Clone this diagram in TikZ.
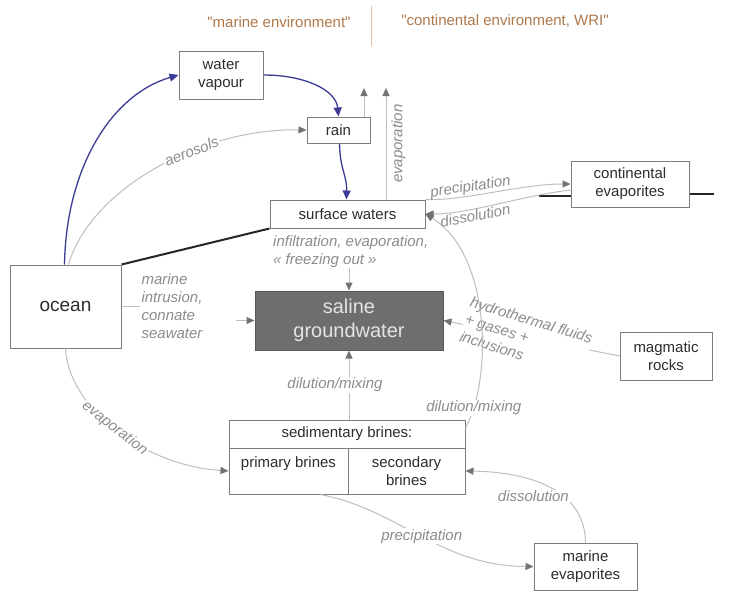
\documentclass[tikz,border=0pt]{standalone}
\usepackage{fontspec}
\setmainfont{Liberation Sans}
\newfontfamily\envfont{Liberation Sans}[Ligatures=TeXOff]
\usetikzlibrary{arrows.meta,calc}
\definecolor{boxline}{RGB}{125,125,125}
\definecolor{txt}{RGB}{45,45,45}
\definecolor{glin}{RGB}{190,190,190}
\definecolor{ghead}{RGB}{115,115,115}
\definecolor{glab}{RGB}{140,140,140}
\definecolor{bluel}{RGB}{60,60,150}
\definecolor{envcol}{RGB}{175,120,75}
\definecolor{darkfill}{RGB}{110,110,110}
\definecolor{saltxt}{RGB}{228,228,228}
\begin{document}
\begin{tikzpicture}[x=1pt,y=-1pt,
  box/.style={draw=boxline, line width=1pt, fill=white, inner sep=0pt, align=center, text=txt, font=\fontsize{15}{18}\selectfont},
  garrow/.style={draw=glin, line width=1pt, -{Triangle[length=8pt,width=7pt,color=ghead]}},
  gline/.style={draw=glin, line width=1pt},
  barrow/.style={draw=bluel, line width=1.3pt, -{Triangle[length=9pt,width=8pt]}},
  blackline/.style={draw=black!85, line width=2pt},
  lab/.style={text=glab, font=\fontsize{15}{18}\selectfont\itshape, inner sep=1pt, align=left},
  blab/.style={lab, fill=white},
  envtext/.style={text=envcol, font=\envfont\fontsize{15}{18}\selectfont},
]
\fill[white] (0,0) rectangle (736,592);
\useasboundingbox (0,0) rectangle (736,592);

% header
\node[envtext] (envm) at (279,22) {"marine environment"};
\node[envtext] (envk) at (505,21) {"continental environment, WRI"};
\draw[draw=envcol!45, line width=1pt] (371,6) -- (371,46);

% boxes
\node[box, minimum width=84, minimum height=48] (wv) at (221,75) {water\\vapour};
\node[box, minimum width=63, minimum height=26] (rain) at (338.5,130) {rain};
\node[box, minimum width=155, minimum height=28] (sw) at (347.5,214) {surface waters};
\node[box, minimum width=118, minimum height=46] (ce) at (630,184) {continental\\evaporites};
\node[box, minimum width=111, minimum height=83, font=\fontsize{19}{23}\selectfont] (ocean) at (65.5,306.5) {ocean};
\node[box, draw=black!65, fill=darkfill, text=saltxt, minimum width=188, minimum height=59, font=\fontsize{20}{24}\selectfont] (sal) at (349,320.5) {saline\\groundwater};
\node[box, minimum width=92, minimum height=48] (mag) at (666,356) {magmatic\\rocks};
\node[box, minimum width=236, minimum height=28] (sedhdr) at (347,434) {sedimentary brines:};
\node[box, minimum width=119, minimum height=46] (prim) at (288.5,471) {primary brines\\\mbox{}};
\node[box, minimum width=117, minimum height=46] (sec) at (406.5,471) {secondary\\brines};
\node[box, minimum width=103, minimum height=47] (me) at (585.5,566.5) {marine\\evaporites};

% blue water cycle
\draw[barrow] ([xshift=-1pt]ocean.north) .. controls (66,170) and (110,95) .. (wv.west);
\draw[barrow] (wv.east) .. controls (305,75) and (336,90) .. (rain.north);
\draw[barrow] ([xshift=1pt]rain.south) .. controls (340,170) and (347,175) .. ([xshift=-1pt]sw.north);

% aerosols
\draw[garrow] ([xshift=3pt]ocean.north) .. controls (90,190) and (200,128) .. (rain.west)
  node[blab, sloped, pos=0.63] {aerosols};

% evaporation arrows
\coordinate (evapA) at (364,88);
\coordinate (evapB) at (386,88);
\draw[garrow] (rain.north -| evapA) -- (evapA);
\draw[garrow] (sw.north -| evapB) -- (evapB)
  node[lab, pos=0.5, rotate=90, anchor=north, inner sep=5pt] {evaporation};

% black boundary lines
\draw[blackline] (ocean.north east) -- (sw.south west);
\coordinate (ceL) at (539,196);
\coordinate (ceR) at (714,194);
\draw[blackline] (ceL) -- (ceL -| ce.west);
\draw[blackline] (ceR -| ce.east) -- (ceR);

% surface waters -> saline
\node[lab, anchor=north west] (inf) at (272,234) {infiltration, evaporation,\\« freezing out »};
\draw[garrow] (inf.south -| sal.north) -- (sal.north);

% ocean -> saline
\node[lab] (mi) at (172,306.5) {marine\\intrusion,\\connate\\seawater};
\draw[gline] (ocean.east) -- (mi.west);
\draw[garrow] ([xshift=32pt]mi.east |- sal.west) -- (sal.west);

% magmatic -> saline
\draw[garrow] (mag.west) -- (sal.east)
  node[blab, pos=0.53, rotate=-17] {hydrothermal fluids\\+ gases +\\inclusions};

% sedimentary brines <-> surface waters
\draw[garrow] ([yshift=6pt]sedhdr.east) .. controls (492,380) and (492,255) .. (sw.east)
  node[blab, pos=0.12] {dilution/mixing};

% surface waters <-> continental evaporites
\draw[garrow] (sw.north east) .. controls (465,201) and (520,184) .. (ce.west)
  node[lab, pos=0.35, sloped, above] {precipitation};
\draw[garrow] ([yshift=-6pt]ce.west) .. controls (520,196) and (470,214) .. (sw.east)
  node[lab, pos=0.65, sloped, below] {dissolution};

% sedimentary -> saline
\draw[garrow] (sal.south |- sedhdr.north) -- (sal.south)
  node[blab, pos=0.5, xshift=-14pt] {dilution/mixing};

% ocean -> primary brines
\draw[garrow] (ocean.south) .. controls (68,405) and (140,465) .. (prim.west)
  node[blab, sloped, pos=0.5] {evaporation};

% primary brines -> marine evaporites
\draw[garrow] ([xshift=-28pt]prim.south east) .. controls (400,510) and (440,566) .. (me.west)
  node[blab, pos=0.5] {precipitation};

% marine evaporites -> secondary brines
\draw[garrow] (me.north) .. controls (585,490) and (530,472) .. (sec.east)
  node[blab, pos=0.42, xshift=-26pt, yshift=-3pt] {dissolution};
\end{tikzpicture}
\end{document}
